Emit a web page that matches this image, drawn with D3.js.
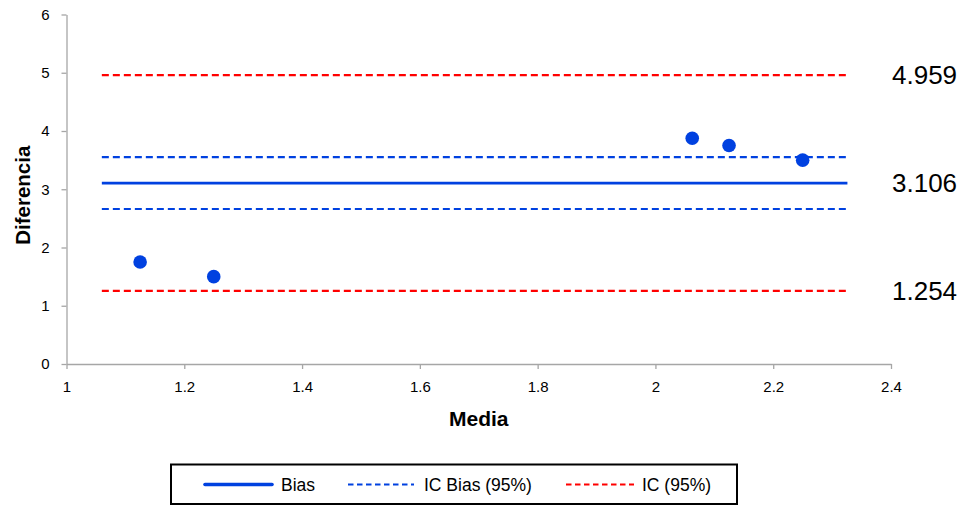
<!DOCTYPE html>
<html>
<head>
<meta charset="utf-8">
<script src="https://cdnjs.cloudflare.com/ajax/libs/d3/7.8.5/d3.min.js"></script>
<style>
  html, body { margin: 0; padding: 0; background: #fff; }
  svg { display: block; font-family: Arial, "Liberation Sans", sans-serif; }
</style>
</head>
<body>
<svg id="chart" width="962" height="506"></svg>
<script>
// Bland–Altman data: mean of the two measurements vs. their difference
const media = [1.125, 1.25, 2.0625, 2.125, 2.25];
const diferencia = [1.75, 1.5, 3.875, 3.75, 3.5];

// Reference lines
const bias = 3.106;
const icBias = [3.551, 2.661];
const ic = [4.959, 1.254];
const lineSpan = [1.06, 2.326];

const xTicks = [1, 1.2, 1.4, 1.6, 1.8, 2, 2.2, 2.4];
const yTicks = [0, 1, 2, 3, 4, 5, 6];

const legendItems = ["Bias", "IC Bias (95%)", "IC (95%)"];

const BLUE = "#0041e0";
const RED = "#ff0000";
const AXIS = "#a6a6a6";

const svg = d3.select("#chart");

const x = d3.scaleLinear().domain([1, 2.4]).range([66.5, 891]);
const y = d3.scaleLinear().domain([0, 6]).range([364, 14.5]);

// Axes
const xAxis = svg.append("g")
  .attr("transform", `translate(0,${y(0)})`)
  .call(d3.axisBottom(x).tickValues(xTicks).tickFormat(d3.format("~g")).tickSize(5).tickSizeOuter(0).tickPadding(12));
const yAxis = svg.append("g")
  .attr("transform", `translate(${x(1)},0)`)
  .call(d3.axisLeft(y).tickValues(yTicks).tickFormat(d3.format("d")).tickSize(5).tickSizeOuter(0).tickPadding(12));

[xAxis, yAxis].forEach(g => {
  g.attr("font-size", 15).attr("font-family", "Arial, 'Liberation Sans', sans-serif");
  g.select(".domain").attr("stroke", AXIS).attr("stroke-width", 1.3);
  g.selectAll(".tick line").attr("stroke", AXIS).attr("stroke-width", 1.3);
  g.selectAll(".tick text").attr("fill", "#000");
});

// Axis titles
svg.append("text")
  .attr("x", x(1.7)).attr("y", 426)
  .attr("text-anchor", "middle")
  .attr("font-size", 21).attr("font-weight", "bold")
  .text("Media");
svg.append("text")
  .attr("transform", `translate(30,${y(3) + 6}) rotate(-90)`)
  .attr("text-anchor", "middle")
  .attr("font-size", 20.5).attr("font-weight", "bold")
  .text("Diferencia");

// Horizontal reference lines
const hLines = [
  { v: ic[0], color: RED, dash: "7,4", w: 2.2 },
  { v: icBias[0], color: BLUE, dash: "7,4", w: 2.2 },
  { v: bias, color: BLUE, dash: null, w: 2.6 },
  { v: icBias[1], color: BLUE, dash: "7,4", w: 2.2 },
  { v: ic[1], color: RED, dash: "7,4", w: 2.2 }
];
svg.append("g").selectAll("line").data(hLines).join("line")
  .attr("x1", x(lineSpan[0])).attr("x2", x(lineSpan[1]))
  .attr("y1", d => y(d.v)).attr("y2", d => y(d.v))
  .attr("stroke", d => d.color)
  .attr("stroke-width", d => d.w)
  .attr("stroke-dasharray", d => d.dash);

// Points
svg.append("g").selectAll("circle").data(media.map((m, i) => [m, diferencia[i]])).join("circle")
  .attr("cx", d => x(d[0])).attr("cy", d => y(d[1]))
  .attr("r", 6.8)
  .attr("fill", BLUE);

// Value labels for the bias and limits
svg.append("g").selectAll("text").data([ic[0], bias, ic[1]]).join("text")
  .attr("x", 892).attr("y", d => y(d) + 9)
  .attr("font-size", 26)
  .attr("fill", "#000")
  .text(d => d3.format(".3f")(d));

// Legend
const lg = svg.append("g");
lg.append("rect")
  .attr("x", 171).attr("y", 464.5).attr("width", 566).attr("height", 39.5)
  .attr("fill", "#fff").attr("stroke", "#000").attr("stroke-width", 2);
const legendDefs = [
  { x1: 205, x2: 272, tx: 281, color: BLUE, dash: null, w: 3.6 },
  { x1: 348, x2: 414, tx: 424, color: BLUE, dash: "5.5,3.5", w: 2 },
  { x1: 566, x2: 634, tx: 642, color: RED, dash: "5.5,3.5", w: 2 }
];
legendDefs.forEach((d, i) => {
  lg.append("line")
    .attr("x1", d.x1).attr("x2", d.x2).attr("y1", 484.5).attr("y2", 484.5)
    .attr("stroke", d.color).attr("stroke-width", d.w)
    .attr("stroke-dasharray", d.dash)
    .attr("stroke-linecap", d.dash ? "butt" : "round");
  lg.append("text")
    .attr("x", d.tx).attr("y", 491)
    .attr("font-size", 17.5).attr("fill", "#000")
    .text(legendItems[i]);
});
</script>
</body>
</html>
